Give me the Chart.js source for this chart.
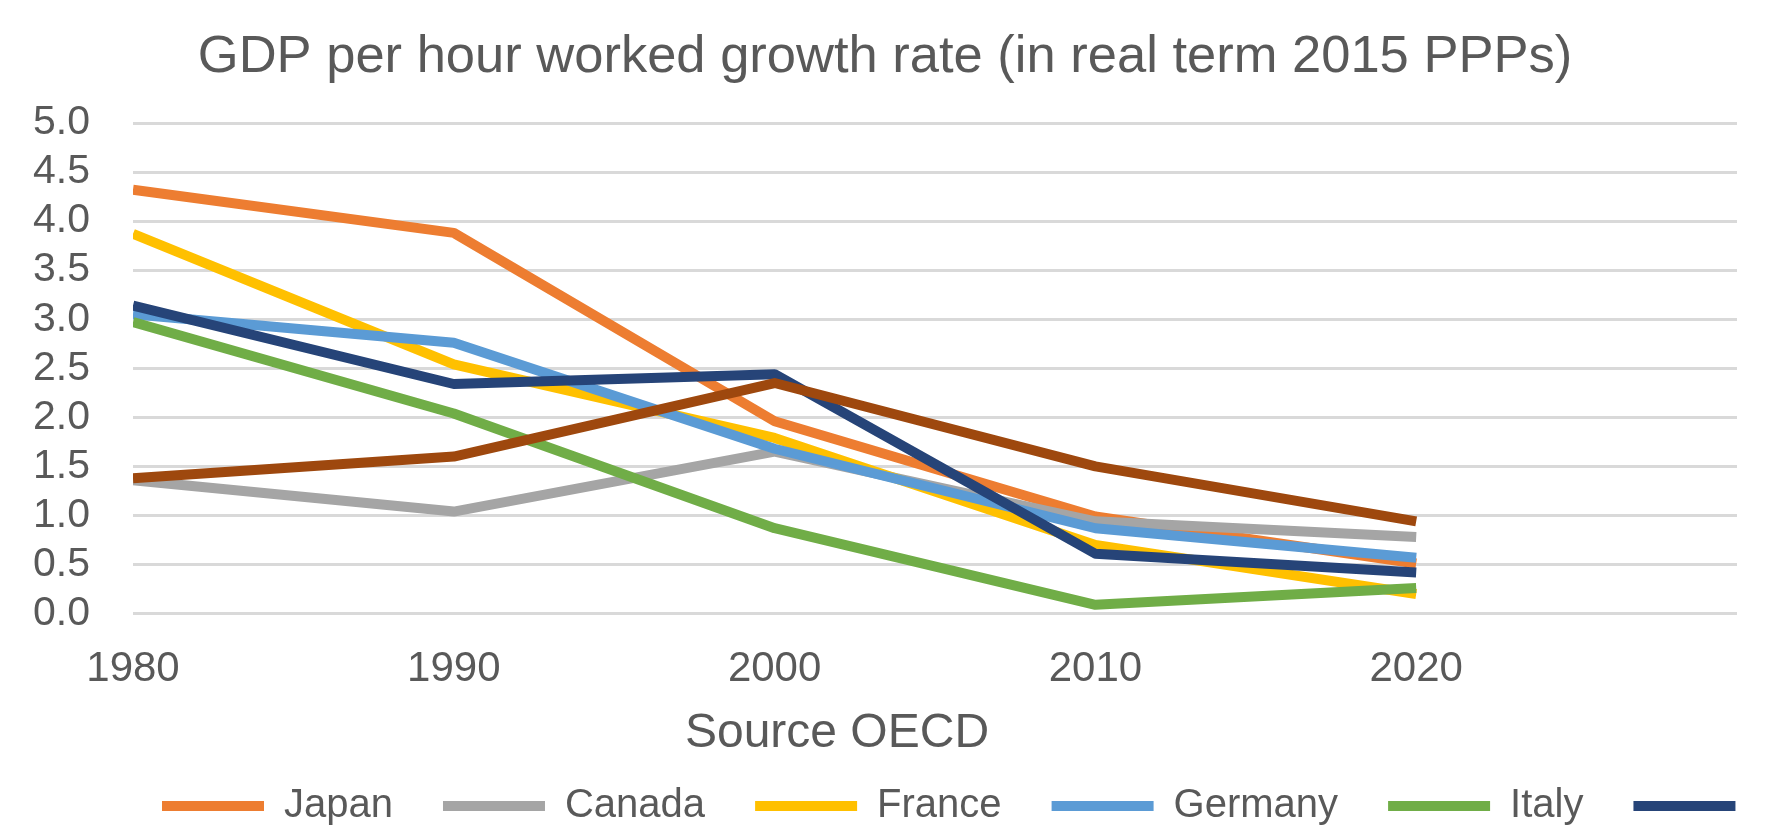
<!DOCTYPE html>
<html>
<head>
<meta charset="utf-8">
<script src="https://cdn.jsdelivr.net/npm/chart.js@4/dist/chart.umd.min.js"></script>
<style>
  html, body { margin: 0; padding: 0; background: #ffffff; overflow: hidden; }
  #wrap { width: 1784px; height: 836px; position: relative; }
</style>
</head>
<body>
<div id="wrap"><canvas id="c"></canvas></div>
<script>
// ---- data ----
const years = [1980, 1990, 2000, 2010, 2020];
const seriesNames = ['Japan', 'Canada', 'France', 'Germany', 'Italy', 'United Kingdom', 'United States'];
const japan   = [4.32, 3.88, 1.96, 0.99, 0.51];
const canada  = [1.36, 1.04, 1.65, 0.94, 0.78];
const france  = [3.87, 2.54, 1.79, 0.70, 0.20];
const germany = [3.05, 2.76, 1.68, 0.87, 0.57];
const italy   = [2.97, 2.04, 0.87, 0.09, 0.26];
const uk      = [3.14, 2.34, 2.44, 0.61, 0.42];
const us      = [1.38, 1.60, 2.35, 1.50, 0.94];
const yTicks  = [0, 0.5, 1, 1.5, 2, 2.5, 3, 3.5, 4, 4.5, 5];
const titleText = 'GDP per hour worked growth rate (in real term 2015 PPPs)';
const sourceText = 'Source OECD';

const seriesValues = [japan, canada, france, germany, italy, uk, us];
const colors = ['#ED7D31', '#A5A5A5', '#FFC000', '#5B9BD5', '#70AD47', '#264478', '#9E480E'];
const legendShown = 6;           // legend is cut after the 6th entry in the picture
const textColor = '#595959';
const FONT = "'Liberation Sans', Arial, sans-serif";
const Y_PAD = 43;
const X_PAD = 31;

const datasets = seriesValues.map((vals, i) => ({
  label: seriesNames[i],
  data: vals.map((v, j) => ({ x: years[j], y: v })),
  borderColor: colors[i],
  backgroundColor: colors[i],
  borderWidth: 10,
  pointRadius: 0,
  pointHoverRadius: 0,
  tension: 0,
  borderJoinStyle: 'round',
  borderCapStyle: 'butt',
  order: seriesValues.length - i   // later series drawn on top, like the original
}));

const extras = {
  id: 'extras',
  beforeDraw(chart) {
    const lg = chart.legend;
    if (lg) {
      lg.left = 112;
      lg.right = chart.width + 400;
    }
  },
  afterDraw(chart) {
    const ctx = chart.ctx;
    const ca = chart.chartArea;
    ctx.save();
    ctx.font = '48px ' + FONT;
    ctx.fillStyle = textColor;
    ctx.textAlign = 'center';
    ctx.textBaseline = 'middle';
    ctx.fillText(sourceText, (ca.left + ca.right) / 2 - 98, chart.scales.x.bottom - 2);
    ctx.restore();
  }
};

new Chart(document.getElementById('c'), {
  type: 'line',
  data: { datasets },
  plugins: [extras],
  options: {
    responsive: true,
    maintainAspectRatio: false,
    animation: false,
    layout: { padding: { left: 33, right: 47, top: 0, bottom: 0 } },
    plugins: {
      title: {
        display: true,
        text: titleText,
        color: textColor,
        font: { family: FONT, size: 52.5, weight: 'normal' },
        padding: { top: 26, bottom: 34 }
      },
      legend: {
        display: true,
        position: 'bottom',
        align: 'start',
        labels: {
          color: textColor,
          font: { family: FONT, size: 40 },
          boxWidth: 102,
          boxHeight: 10,
          padding: 50,
          sort: (a, b) => a.datasetIndex - b.datasetIndex,
          filter: (item) => item.datasetIndex < legendShown,
          generateLabels(chart) {
            const base = Chart.defaults.plugins.legend.labels.generateLabels(chart);
            return base.map(it => {
              it.lineWidth = 0;
              it.strokeStyle = 'rgba(0,0,0,0)';
              it.fillStyle = colors[it.datasetIndex];
              if (it.datasetIndex === legendShown - 1) it.text = '';
              return it;
            });
          }
        }
      },
      tooltip: { enabled: false }
    },
    scales: {
      x: {
        type: 'linear',
        min: 1980,
        max: 2030,
        grid: { display: false, drawTicks: false },
        border: { display: false },
        ticks: {
          stepSize: 10,
          padding: X_PAD,
          autoSkip: false,
          color: textColor,
          font: { family: FONT, size: 42 },
          maxRotation: 0,
          callback: (v) => years.includes(v) ? String(v) : ''
        },
        afterFit(s) { s.height = s.height + 10; }
      },
      y: {
        min: 0,
        max: 5,
        grid: { color: '#D9D9D9', lineWidth: 3, drawTicks: false },
        border: { display: false },
        afterBuildTicks(s) { s.ticks = yTicks.map(v => ({ value: v })); },
        afterFit(s) { s.width = s.width - Y_PAD; },
        ticks: {
          padding: Y_PAD,
          autoSkip: false,
          color: textColor,
          font: { family: FONT, size: 41 },
          callback: (v) => Number(v).toFixed(1)
        }
      }
    }
  }
});
</script>
</body>
</html>
